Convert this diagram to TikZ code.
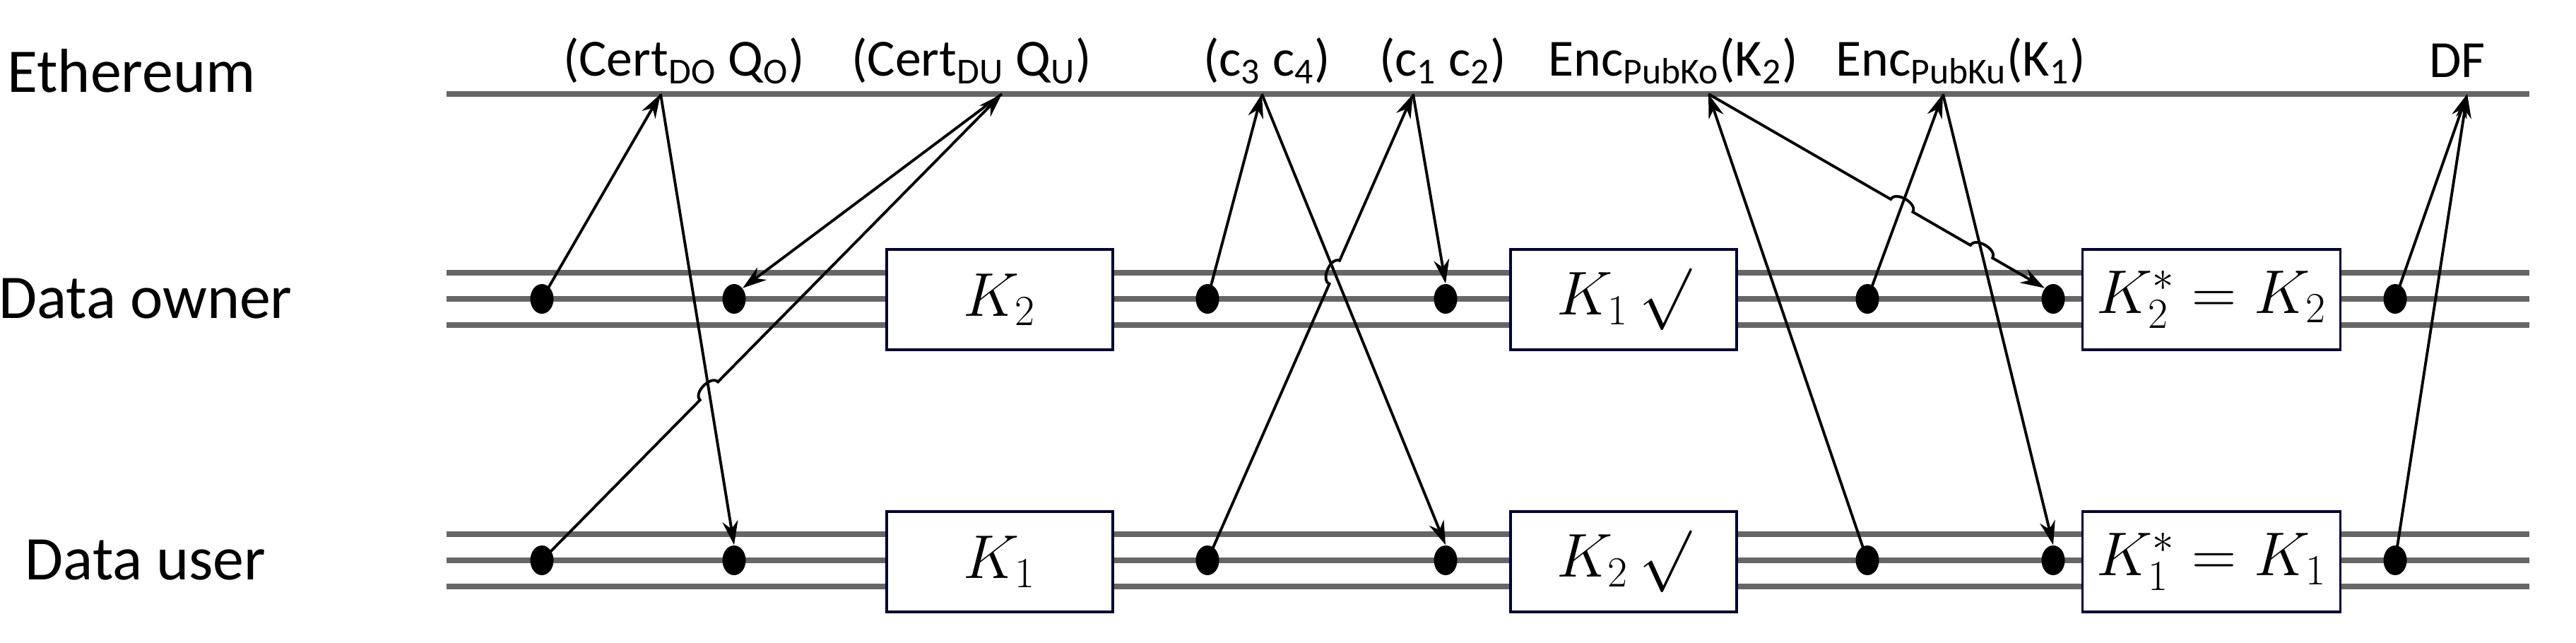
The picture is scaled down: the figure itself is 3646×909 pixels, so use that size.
\documentclass[tikz,border=0pt]{standalone}
\usepackage{fontspec}
\setmainfont{Carlito}
\usetikzlibrary{calc,intersections,arrows.meta,shapes.geometric}
\begin{document}
\begin{tikzpicture}[x=0.01cm,y=-0.01cm,
  lane/.style={line width=2pt,draw=black!60},
  dot/.style={ellipse,fill=black,minimum width=0.33cm,minimum height=0.42cm,inner sep=0pt},
  box/.style={draw=black!80!blue,fill=white,line width=1pt,minimum width=3.2cm,minimum height=1.42cm,font=\fontsize{26}{28}\selectfont},
  lbl/.style={font=\fontsize{21}{24}\selectfont},
  side/.style={font=\fontsize{25}{28}\selectfont},
  arr/.style={line width=1.1pt,-{Stealth[length=0.34cm,width=0.22cm]}}]
\useasboundingbox (0,0) rectangle (3646,909);
% labels
\node[side] (le) at (186,100) {Ethereum};
\node[side] (lo) at (206,423) {Data owner};
\node[side] (lu) at (206,793) {Data user};
% lanes
\draw[lane] (632,133) -- (3580,133);
\foreach \y in {386,423,460,756,793,830} \draw[lane] (632,\y) -- (3580,\y);
% boxes
\node[box] (bo1) at (1415,424) {$K_2$};
\node[box] (bu1) at (1415,795) {$K_1$};
\node[box] (bo2) at (2298,424) {$K_1\,\surd$};
\node[box] (bu2) at (2298,795) {$K_2\,\surd$};
\node[box,minimum width=3.65cm] (bo3) at (3130,424) {$K_2^{*}=K_2$};
\node[box,minimum width=3.65cm] (bu3) at (3130,795) {$K_1^{*}=K_1$};
% top labels
\node[lbl] (t1) at (968,86) {(Cert\textsubscript{DO} Q\textsubscript{O})};
\node[lbl] (t2) at (1375,86) {(Cert\textsubscript{DU} Q\textsubscript{U})};
\node[lbl] (t3) at (1793,86) {(c\textsubscript{3} c\textsubscript{4})};
\node[lbl] (t4) at (2042,86) {(c\textsubscript{1} c\textsubscript{2})};
\node[lbl] (t5) at (2368,86) {Enc\textsubscript{PubKo}(K\textsubscript{2})};
\node[lbl] (t6) at (2775,86) {Enc\textsubscript{PubKu}(K\textsubscript{1})};
\node[lbl] (t7) at (3478,86) {DF};
% anchor points on Ethereum line
\coordinate (e1) at (935,133);
\coordinate (e2) at (1418,133);
\coordinate (e3) at (1786,133);
\coordinate (e4) at (2000,133);
\coordinate (e5) at (2418,133);
\coordinate (e6) at (2750,133);
\coordinate (e7) at (3492,133);
% dots
\foreach \i/\x in {1/767,2/1039,3/1709,4/2046,5/2643,6/2906,7/3390}{
  \node[dot] (o\i) at (\x,423) {};
  \node[dot] (u\i) at (\x,793) {};
}
% straight arrows
\draw[arr] (o1.center) -- (e1);
\draw[arr,name path=a2] (e1) -- (u2.north);
\draw[arr] (e2) -- (o2.north east);
\draw[arr] (o3.center) -- (e3);
\draw[arr,name path=a6] (e3) -- (u4.north);
\draw[arr] (e4) -- (o4.north);
\draw[arr] (u5.center) -- (e5);
\draw[arr,name path=a11] (o5.center) -- (e6);
\draw[arr,name path=a12] (e6) -- (u6.north);
\draw[arr] (o7.center) -- (e7);
\draw[arr] (u7.center) -- (e7);
% hopping arrows
\path[name path=p4] (u1.center) -- (e2);
\path[name intersections={of=p4 and a2,by=x4}];
\draw[arr] (u1.center) -- ($(x4)!0.18cm!(u1.center)$) to[bend left=90] ($(x4)!-0.18cm!(u1.center)$) -- (e2);
\path[name path=p7] (u3.center) -- (e4);
\path[name intersections={of=p7 and a6,by=x7}];
\draw[arr] (u3.center) -- ($(x7)!0.18cm!(u3.center)$) to[bend left=90] ($(x7)!-0.18cm!(u3.center)$) -- (e4);
\path[name path=p10] (e5) -- (o6.north west);
\path[name intersections={of=p10 and a11,by=xa}];
\path[name intersections={of=p10 and a12,by=xb}];
\draw[arr] (e5) -- ($(xa)!0.18cm!(e5)$) to[bend left=90] ($(xa)!-0.18cm!(e5)$) -- ($(xb)!0.18cm!(e5)$) to[bend left=90] ($(xb)!-0.18cm!(e5)$) -- (o6.north west);
\end{tikzpicture}
\end{document}
